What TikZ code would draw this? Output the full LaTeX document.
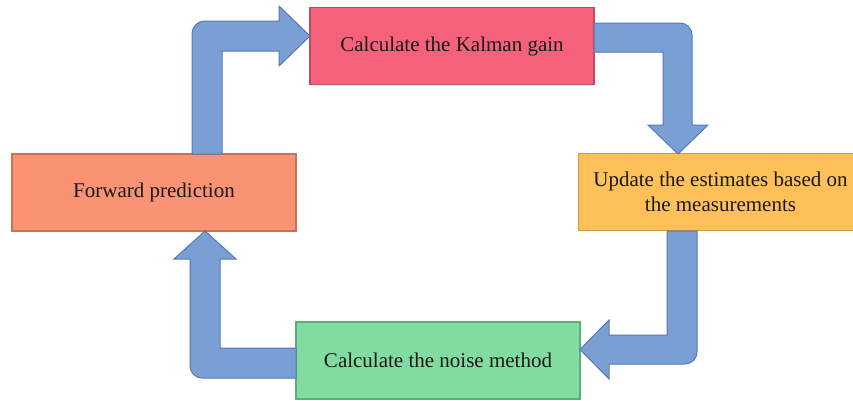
\documentclass[tikz,border=0pt]{standalone}
\usepackage{fontspec}
\setmainfont{Liberation Serif}
\definecolor{redfill}{HTML}{F5617B}
\definecolor{redline}{HTML}{C24A60}
\definecolor{orangefill}{HTML}{FA9373}
\definecolor{orangeline}{HTML}{C9725A}
\definecolor{yellowfill}{HTML}{FFC05A}
\definecolor{yellowline}{HTML}{D49A3E}
\definecolor{greenfill}{HTML}{82DBA0}
\definecolor{greenline}{HTML}{5CAE7C}
\definecolor{arrowfill}{HTML}{7A9FD4}
\definecolor{arrowline}{HTML}{5878B4}
\tikzset{
  stagebox/.style={rectangle, minimum width=284pt, minimum height=77pt,
    inner sep=0pt, line width=1.2pt, align=center, text=black!90,
    font=\fontsize{21}{25}\selectfont},
  bendarrow/.style={fill=arrowfill, draw=arrowline, line width=1pt, line join=miter}
}
\begin{document}
\begin{tikzpicture}[x=1pt, y=-1pt]
\useasboundingbox (0,0) rectangle (853,400);
\clip (0,0) rectangle (853,400);

% process stages
\node[stagebox, fill=redfill, draw=redline] (gain) at (452,46) {Calculate the Kalman gain};
\node[stagebox, fill=yellowfill, draw=yellowline] (update) at (720.5,192) {Update the estimates based on\\the measurements};
\node[stagebox, fill=greenfill, draw=greenline] (noise) at (438,360.5) {Calculate the noise method};
\node[stagebox, fill=orangefill, draw=orangeline] (fwd) at (154,192.5) {Forward prediction};

% bent block arrows between the stages
% forward prediction -> Kalman gain
\filldraw[bendarrow] (192,154) -- (192,33) .. controls (192,26.4) and (198.6,21) .. (204,21)
  -- (279,21) -- (279,6) -- (310,36) -- (279,66) -- (279,51) -- (222,51) -- (222,154) -- cycle;
% Kalman gain -> update
\filldraw[bendarrow] (594,23) -- (680,23) .. controls (686.6,23) and (692,28.4) .. (692,35)
  -- (692,125) -- (708,125) -- (678,154) -- (648,125) -- (663,125) -- (663,52) -- (594,52) -- cycle;
% update -> noise
\filldraw[bendarrow] (667,231) -- (697,231) -- (697,352) .. controls (697,358.6) and (691.6,364) .. (685,364)
  -- (609,364) -- (609,379) -- (580,349.5) -- (609,320) -- (609,335) -- (667,335) -- cycle;
% noise -> forward prediction
\filldraw[bendarrow] (296,348) -- (296,378) -- (202,378) .. controls (195.4,378) and (190,372.6) .. (190,366)
  -- (190,259) -- (174,259) -- (205,231) -- (236,259) -- (220,259) -- (220,348) -- cycle;
\end{tikzpicture}
\end{document}
